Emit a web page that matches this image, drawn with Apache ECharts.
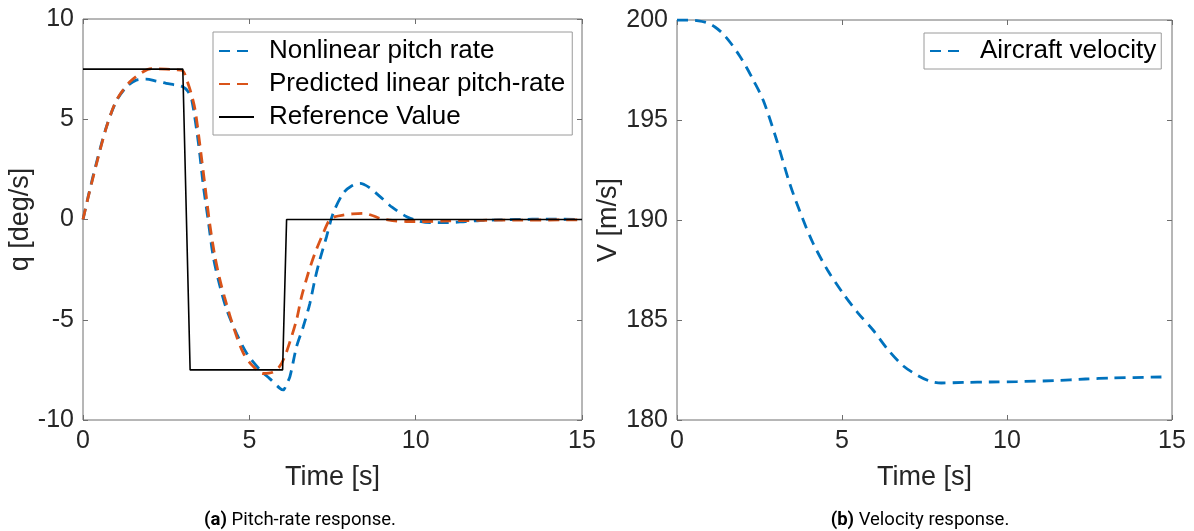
<!DOCTYPE html>
<html>
<head>
<meta charset="utf-8">
<title>Pitch-rate and velocity response</title>
<script src="https://cdn.jsdelivr.net/npm/echarts@6/dist/echarts.min.js"></script>
<style>
  html, body { margin: 0; padding: 0; background: #ffffff; }
  #chart { width: 1194px; height: 531px; }
</style>
</head>
<body>
<div id="chart"></div>
<script>
// ---- data ----
// (a) pitch rate q [deg/s] versus time [s]
const nonlinearTime = [0, 0.15, 0.4, 0.7, 1.0, 1.3, 1.6, 1.9, 2.2, 2.5, 2.8, 3.0, 3.15, 3.27, 3.47, 3.62, 3.76, 3.92, 4.12, 4.32, 4.62, 4.92, 5.32, 5.62, 5.92, 6.02, 6.12, 6.22, 6.42, 6.62, 6.82, 6.97, 7.12, 7.32, 7.52, 7.82, 8.05, 8.33, 8.6, 8.93, 9.3, 9.73, 10.1, 10.43, 10.93, 11.5, 11.93, 12.5, 13.0, 14.0, 15.0];
const nonlinearPitch = [0, 1.1, 2.8, 4.6, 5.9, 6.6, 6.95, 7.0, 6.9, 6.79, 6.7, 6.62, 6.4, 5.96, 3.8, 1.64, 0.0, -1.9, -3.35, -4.5, -5.7, -6.67, -7.5, -7.95, -8.42, -8.5, -8.2, -7.84, -6.34, -5.35, -4.18, -3.0, -2.0, -0.86, 0.31, 1.31, 1.65, 1.8, 1.6, 1.14, 0.6, 0.14, -0.08, -0.16, -0.16, -0.1, -0.05, -0.02, 0.0, 0.02, 0.0];

const predictedTime = [0, 0.16, 0.41, 0.71, 1.01, 1.41, 1.81, 2.06, 2.5, 2.8, 3.0, 3.12, 3.25, 3.37, 3.52, 3.67, 3.8, 3.95, 4.1, 4.25, 4.52, 4.82, 5.1, 5.42, 5.7, 5.9, 6.05, 6.22, 6.42, 6.57, 6.77, 6.97, 7.22, 7.42, 7.6, 7.82, 8.1, 8.42, 8.7, 8.92, 9.3, 9.73, 10.2, 11.0, 12.0, 13.0, 15.0];
const predictedPitch = [0, 1.14, 2.8, 4.63, 5.96, 6.87, 7.37, 7.52, 7.5, 7.47, 7.42, 6.96, 6.3, 5.46, 3.63, 1.64, -0.1, -1.7, -2.9, -3.85, -5.35, -6.67, -7.3, -7.68, -7.62, -7.35, -6.9, -6.1, -5.0, -3.85, -2.68, -1.69, -0.69, 0.0, 0.15, 0.22, 0.28, 0.31, 0.2, 0.06, -0.05, -0.1, -0.1, -0.07, -0.04, -0.03, -0.02];

const referenceTime = [0, 3.0, 3.22, 6.0, 6.12, 15];
const referencePitch = [7.5, 7.5, -7.5, -7.5, 0, 0];

// (b) aircraft velocity V [m/s] versus time [s]
const velocityTime = [0, 0.34, 0.6, 0.9, 1.15, 1.4, 1.65, 1.9, 2.1, 2.31, 2.61, 3.0, 3.42, 3.8, 4.12, 4.56, 5.02, 5.48, 5.94, 6.4, 6.86, 7.32, 7.67, 8.01, 8.7, 9.5, 10.31, 11.45, 12.38, 13.18, 14.68];
const velocity = [200, 200, 199.97, 199.87, 199.65, 199.3, 198.8, 198.2, 197.65, 197.0, 196.0, 194.1, 191.8, 190.1, 188.85, 187.5, 186.36, 185.36, 184.5, 183.5, 182.7, 182.2, 181.94, 181.85, 181.88, 181.9, 181.92, 181.97, 182.05, 182.1, 182.15];

// axis ranges and legend / caption text
const timeRange = [0, 15];
const pitchRange = [-10, 10];
const velocityRange = [180, 200];
const pitchSeriesNames = ['Nonlinear pitch rate', 'Predicted linear pitch-rate', 'Reference Value'];
const velocitySeriesName = 'Aircraft velocity';
const captionA = ['(a)', ' Pitch-rate response.'];
const captionB = ['(b)', ' Velocity response.'];

// ---- styling ----
const BLUE = '#0072BD';
const ORANGE = '#D95319';
const AXIS_GRAY = '#6e6e6e';
const TEXT = '#262626';
const FONT = "'Liberation Sans', Arial, sans-serif";
const DASH = [11, 7];

const zip = (xs, ys) => xs.map((x, i) => [x, ys[i]]);

const tickStyle = { show: true, inside: true, length: 5, lineStyle: { color: AXIS_GRAY } };
const hiddenLine = { show: false, onZero: false };

function mainX(gridIndex) {
  return {
    type: 'value', gridIndex, min: timeRange[0], max: timeRange[1], interval: 5,
    name: 'Time [s]', nameLocation: 'middle', nameGap: 44,
    nameTextStyle: { fontFamily: FONT, fontSize: 27, color: TEXT },
    axisLine: hiddenLine, axisTick: tickStyle,
    axisLabel: { fontFamily: FONT, fontSize: 25, color: TEXT, margin: 9 },
    splitLine: { show: false }
  };
}
function mirrorX(gridIndex) {
  return {
    type: 'value', gridIndex, position: 'top', min: timeRange[0], max: timeRange[1], interval: 5,
    axisLine: hiddenLine, axisTick: tickStyle,
    axisLabel: { show: false }, splitLine: { show: false }
  };
}
function mainY(gridIndex, range, name, gap) {
  return {
    type: 'value', gridIndex, min: range[0], max: range[1], interval: 5,
    name, nameLocation: 'middle', nameGap: gap,
    nameTextStyle: { fontFamily: FONT, fontSize: 27, color: TEXT },
    axisLine: hiddenLine, axisTick: tickStyle,
    axisLabel: { fontFamily: FONT, fontSize: 25, color: TEXT, margin: 9 },
    splitLine: { show: false }
  };
}
function mirrorY(gridIndex, range) {
  return {
    type: 'value', gridIndex, position: 'right', min: range[0], max: range[1], interval: 5,
    axisLine: hiddenLine, axisTick: tickStyle,
    axisLabel: { show: false }, splitLine: { show: false }
  };
}

const legendBase = {
  orient: 'vertical',
  backgroundColor: '#ffffff',
  borderColor: '#9a9a9a',
  borderWidth: 1,
  borderRadius: 0,
  itemWidth: 35,
  itemHeight: 14,
  itemGap: 7,
  selectedMode: false,
  // legend keys show only the line sample, not a marker
  itemStyle: { opacity: 0 },
  textStyle: { fontFamily: FONT, fontSize: 26, color: '#000000', lineHeight: 26, padding: [0, 0, 0, 10] }
};

const captionRich = {
  b: { fontFamily: 'Roboto, sans-serif', fontSize: 18.5, fontWeight: 'bold', color: '#000000' },
  n: { fontFamily: 'Roboto, sans-serif', fontSize: 18.5, fontWeight: 'normal', color: '#000000' }
};

const chart = echarts.init(document.getElementById('chart'), null, { renderer: 'canvas' });

chart.setOption({
  backgroundColor: '#ffffff',
  animation: false,
  title: [
    {
      text: '{b|' + captionA[0] + '}{n|' + captionA[1] + '}',
      left: 300, top: 511, textAlign: 'center', padding: 0,
      textStyle: { fontWeight: 'normal', rich: captionRich }
    },
    {
      text: '{b|' + captionB[0] + '}{n|' + captionB[1] + '}',
      left: 920, top: 511, textAlign: 'center', padding: 0,
      textStyle: { fontWeight: 'normal', rich: captionRich }
    }
  ],
  grid: [
    { left: 83, top: 19, width: 499, height: 401, show: true, borderColor: AXIS_GRAY, borderWidth: 1, backgroundColor: 'transparent' },
    { left: 677, top: 20, width: 495, height: 400, show: true, borderColor: AXIS_GRAY, borderWidth: 1, backgroundColor: 'transparent' }
  ],
  xAxis: [mainX(0), mirrorX(0), mainX(1), mirrorX(1)],
  yAxis: [
    mainY(0, pitchRange, 'q [deg/s]', 49), mirrorY(0, pitchRange),
    mainY(1, velocityRange, 'V [m/s]', 46), mirrorY(1, velocityRange)
  ],
  legend: [
    Object.assign({}, legendBase, {
      data: pitchSeriesNames,
      left: 213, top: 32,
      padding: [6, 7, 5, 5]
    }),
    Object.assign({}, legendBase, {
      data: [velocitySeriesName],
      left: 924, top: 33,
      padding: [5, 5, 5, 5]
    })
  ],
  series: [
    {
      name: pitchSeriesNames[0], type: 'line', xAxisIndex: 0, yAxisIndex: 0,
      data: zip(nonlinearTime, nonlinearPitch), symbol: 'none', smooth: 0.3, z: 3,
      lineStyle: { color: BLUE, width: 2.8, type: DASH }, itemStyle: { color: BLUE }
    },
    {
      name: pitchSeriesNames[1], type: 'line', xAxisIndex: 0, yAxisIndex: 0,
      data: zip(predictedTime, predictedPitch), symbol: 'none', smooth: 0.3, z: 4,
      lineStyle: { color: ORANGE, width: 2.8, type: DASH }, itemStyle: { color: ORANGE }
    },
    {
      name: pitchSeriesNames[2], type: 'line', xAxisIndex: 0, yAxisIndex: 0,
      data: zip(referenceTime, referencePitch), symbol: 'none', z: 5,
      lineStyle: { color: '#000000', width: 1.6, type: 'solid' }, itemStyle: { color: '#000000' }
    },
    {
      name: velocitySeriesName, type: 'line', xAxisIndex: 2, yAxisIndex: 2,
      data: zip(velocityTime, velocity), symbol: 'none', smooth: 0.3, z: 3,
      lineStyle: { color: BLUE, width: 2.8, type: DASH }, itemStyle: { color: BLUE }
    }
  ]
});
</script>
</body>
</html>
